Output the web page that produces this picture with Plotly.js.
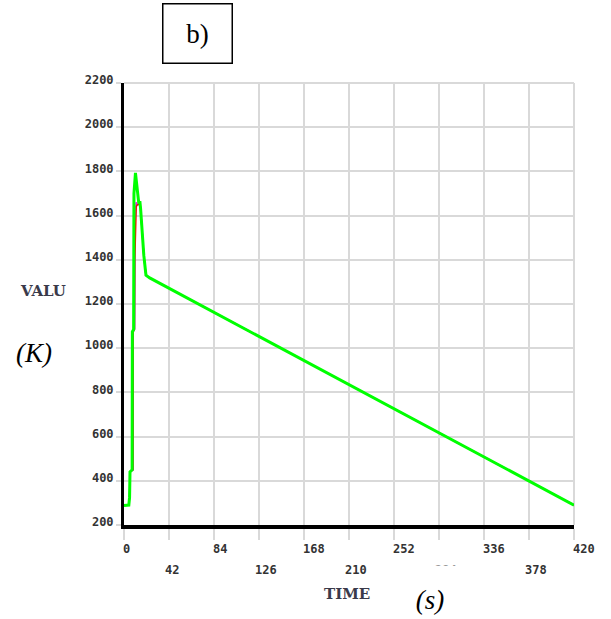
<!DOCTYPE html>
<html>
<head>
<meta charset="utf-8">
<script src="https://cdn.plot.ly/plotly-3.0.1.min.js"></script>
<style>html,body{margin:0;padding:0;background:#fff;}#chart{width:611px;height:619px;}</style>
</head>
<body>
<div id="chart"></div>
<script>
// time (s) and temperature (K)
var timeGreen = [0, 4.5, 5.2, 5.6, 7.6, 7.8, 9.0, 9.3, 10.7, 12.5, 13.8, 14.8, 15.5, 18.5, 20.5, 24.0, 420];
var tempGreen = [288, 290, 325, 440, 450, 1075, 1085, 1700, 1793, 1710, 1655, 1665, 1630, 1420, 1330, 1318, 290];

var timeOther = [0, 4.5, 5.2, 5.6, 8.4, 8.6, 9.8, 10.1, 11.4, 12.5, 13.8, 14.8, 15.5, 18.5, 20.5, 24.0, 420];
var tempRed     = [288, 290, 325, 440, 450, 1075, 1085, 1400, 1640, 1650, 1650, 1660, 1630, 1420, 1330, 1318, 290];
var tempCyan    = [288, 290, 325, 440, 450, 1075, 1085, 1560, 1645, 1650, 1650, 1660, 1630, 1420, 1330, 1318, 290];
var tempMagenta = [288, 290, 325, 440, 450, 1075, 1085, 1600, 1660, 1650, 1650, 1660, 1630, 1420, 1330, 1318, 290];

var xTickEven = [0, 84, 168, 252, 336, 420];
var xTickOdd = [42, 126, 210, 294, 378];
var xTickAll = [0, 42, 84, 126, 168, 210, 252, 294, 336, 378, 420];
var yTicks = [200, 400, 600, 800, 1000, 1200, 1400, 1600, 1800, 2000, 2200];

var gridC = '#d9d9d9';
var tickFont = {family: 'DejaVu Sans Mono', size: 12, color: '#333', weight: 'bold'};
var titleFont = {family: 'DejaVu Serif', size: 15, color: '#3a3a4a', weight: 'bold'};

var traces = [
  {x: timeOther, y: tempMagenta, mode: 'lines', line: {color: '#ff00ff', width: 1.5}, xaxis: 'x', yaxis: 'y'},
  {x: timeOther, y: tempCyan, mode: 'lines', line: {color: '#00ffff', width: 1.5}, xaxis: 'x', yaxis: 'y'},
  {x: timeOther, y: tempRed, mode: 'lines', line: {color: '#ff0000', width: 1.5}, xaxis: 'x', yaxis: 'y'},
  {x: timeGreen, y: tempGreen, mode: 'lines', line: {color: '#00ff00', width: 3}, xaxis: 'x', yaxis: 'y'},
  {x: [0], y: [200], mode: 'markers', marker: {opacity: 0}, xaxis: 'x2', yaxis: 'y', hoverinfo: 'skip'}
];

var layout = {
  width: 611, height: 619,
  margin: {l: 124, r: 37, t: 83, b: 94},
  paper_bgcolor: '#fff', plot_bgcolor: '#fff',
  showlegend: false,
  xaxis: {
    range: [0, 420], tickmode: 'array', tickvals: xTickAll,
    ticktext: xTickAll.map(function(v){ return xTickEven.indexOf(v) >= 0 ? String(v) : ''; }),
    showgrid: true, gridcolor: gridC, gridwidth: 2,
    showline: true, linecolor: '#000', linewidth: 4,
    ticks: 'outside', ticklen: 11, tickcolor: gridC, tickwidth: 2,
    ticklabelposition: 'outside right', ticklabelstandoff: 10, ticklabelshift: -4,
    tickfont: tickFont, zeroline: false
  },
  xaxis2: {
    range: [0, 420], overlaying: 'x', anchor: 'y', side: 'bottom',
    tickmode: 'array', tickvals: xTickOdd, ticktext: xTickOdd.map(String),
    showgrid: false, showline: false, ticks: '', zeroline: false,
    ticklabelposition: 'outside right', ticklabelstandoff: 36, ticklabelshift: -4,
    tickfont: tickFont
  },
  yaxis: {
    range: [200, 2200], tickmode: 'array', tickvals: yTicks, ticktext: yTicks.map(String),
    showgrid: true, gridcolor: gridC, gridwidth: 2,
    showline: true, linecolor: '#000', linewidth: 3,
    ticks: 'outside', ticklen: 5, tickcolor: gridC, tickwidth: 2,
    ticklabelstandoff: 0, ticklabelshift: -3,
    tickfont: tickFont, zeroline: false
  },
  shapes: [
    {type: 'line', xref: 'paper', yref: 'paper', x0: 0, x1: 1, y0: 1, y1: 1, line: {color: gridC, width: 2}, layer: 'below'},
    {type: 'line', xref: 'paper', yref: 'paper', x0: 1, x1: 1, y0: 0, y1: 1, line: {color: gridC, width: 2}, layer: 'below'}
  ],
  annotations: [
    {text: 'b)', xref: 'paper', yref: 'paper', x: 0.1644, y: 1.113, showarrow: false,
     font: {family: 'Liberation Serif', size: 27, color: '#000'},
     bordercolor: '#000', borderwidth: 1.5, borderpad: 1, width: 66, height: 56, bgcolor: '#fff',
     xanchor: 'center', yanchor: 'middle'},
    {text: 'VALU', xref: 'paper', yref: 'paper', x: -0.18, y: 0.529, showarrow: false,
     font: titleFont, xanchor: 'center', yanchor: 'middle'},
    {text: '<i>(K)</i>', xref: 'paper', yref: 'paper', x: -0.2, y: 0.389, showarrow: false,
     font: {family: 'Liberation Serif', size: 27, color: '#000'}, xanchor: 'center', yanchor: 'middle'},
    {text: 'TIME', xref: 'paper', yref: 'paper', x: 0.4956, y: -0.156, showarrow: false,
     font: titleFont, xanchor: 'center', yanchor: 'middle'},
    {text: '<i>(s)</i>', xref: 'paper', yref: 'paper', x: 0.68, y: -0.1697, showarrow: false,
     font: {family: 'Liberation Serif', size: 27, color: '#000'}, bgcolor: '#fff',
     width: 70, height: 66, xanchor: 'center', yanchor: 'middle'}
  ]
};

Plotly.newPlot('chart', traces, layout, {staticPlot: true, displayModeBar: false});
</script>
</body>
</html>
